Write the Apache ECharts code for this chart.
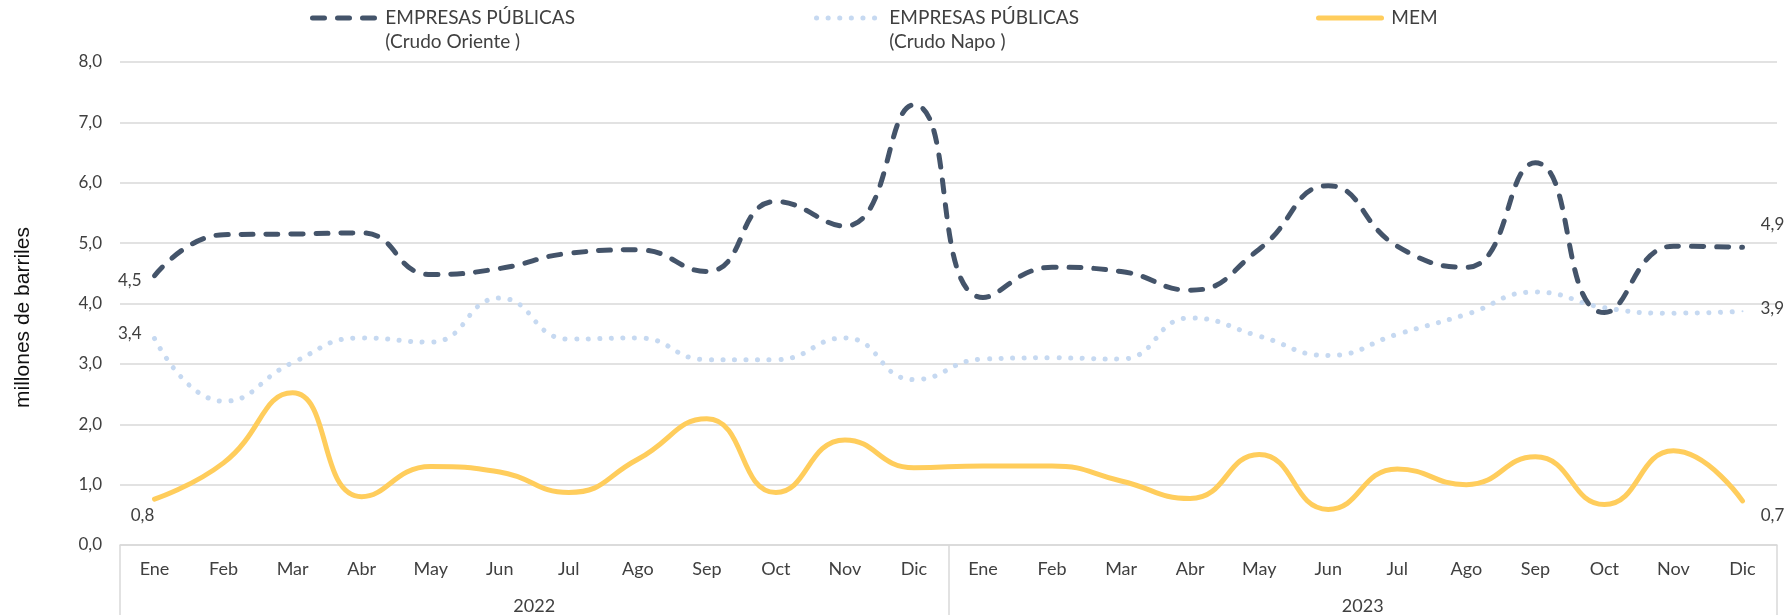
<!DOCTYPE html>
<html>
<head>
<meta charset="utf-8">
<script src="https://cdn.jsdelivr.net/npm/echarts@6/dist/echarts.min.js"></script>
<style>
html,body{margin:0;padding:0;background:#fff;}
#c{width:1787px;height:615px;}
</style>
</head>
<body>
<div id="c"></div>
<script>
const months = ['Ene','Feb','Mar','Abr','May','Jun','Jul','Ago','Sep','Oct','Nov','Dic',
                'Ene','Feb','Mar','Abr','May','Jun','Jul','Ago','Sep','Oct','Nov','Dic'];
const years = ['2022','2023'];
const nameOriente = 'EMPRESAS PÚBLICAS\n(Crudo Oriente )';
const nameNapo = 'EMPRESAS PÚBLICAS\n(Crudo Napo )';
const nameMem = 'MEM';
const oriente = [4.46,5.14,5.15,5.17,4.48,4.58,4.83,4.89,4.53,5.69,5.28,7.29,
                 4.1,4.6,4.53,4.22,4.9,5.95,4.95,4.6,6.33,3.85,4.95,4.93];
const napo = [3.42,2.38,3.02,3.43,3.36,4.09,3.41,3.43,3.07,3.07,3.43,2.74,
              3.08,3.1,3.08,3.76,3.46,3.14,3.49,3.82,4.19,3.93,3.84,3.87];
const mem = [0.76,1.36,2.52,0.8,1.3,1.21,0.87,1.42,2.09,0.87,1.74,1.28,
             1.31,1.31,1.06,0.77,1.5,0.59,1.26,1.0,1.46,0.67,1.56,0.73];

const fmt = v => v.toFixed(1).replace('.', ',');
const txt = '#404040';
const FONT = 'Lato';
const labelFont = {fontFamily:FONT, fontSize:17, color:txt};

function endLabels(arr, color, first, last) {
  const mk = (v, pos) => ({
    value: v, symbol:'circle', symbolSize:2, itemStyle:{color:color},
    label: Object.assign({show:true, formatter: p => fmt(p.value)}, labelFont, pos)
  });
  return arr.map((v, i) => {
    if (i === 0) return mk(v, first);
    if (i === arr.length - 1) return mk(v, last);
    return v;
  });
}

const chart = echarts.init(document.getElementById('c'));
const legendText = {fontFamily:FONT, fontSize:19, color:txt, lineHeight:24};
const legendFmt = name => {
  const parts = name.split('\n').map(s => ' ' + s);
  return parts.length > 1 ? '\u00a0\n' + parts.join('\n') : parts[0];
};
const legendBase = {
  itemWidth:63, itemHeight:14, textStyle:legendText, selectedMode:false,
  formatter: legendFmt, itemStyle:{opacity:0}
};
const option = {
  animation: false,
  backgroundColor: '#fff',
  grid: {left:120, right:10, top:62, bottom:69, containLabel:false},
  legend: [
    Object.assign({data:[nameOriente], left:305, top:-23,
      lineStyle:{width:5, cap:'round', type:[12,13]}}, legendBase),
    Object.assign({data:[nameNapo], left:809, top:-23,
      lineStyle:{width:5, cap:'round', type:[0.1,11.5]}}, legendBase),
    Object.assign({data:[nameMem], left:1311, top:1,
      lineStyle:{width:5, cap:'round'}}, legendBase)
  ],
  xAxis: [
    {
      type:'category', data:months, boundaryGap:true, position:'bottom',
      axisLine:{show:true, lineStyle:{color:'#d9d9d9', width:1.5}},
      axisTick:{show:false},
      axisLabel:{interval:0, margin:15, fontFamily:FONT, fontSize:18, color:txt}
    },
    {
      type:'category', data:years, boundaryGap:true, position:'bottom',
      axisLine:{show:false},
      axisTick:{show:true, length:70, lineStyle:{color:'#d9d9d9', width:1.5}},
      axisLabel:{interval:0, margin:52, fontFamily:FONT, fontSize:18, color:txt}
    }
  ],
  yAxis: {
    type:'value', min:0, max:8, interval:1,
    name:'millones de barriles', nameLocation:'middle', nameGap:86,
    nameTextStyle:{fontFamily:'Liberation Sans', fontSize:21, color:'#111', padding:[0,28,0,0]},
    axisLine:{show:false}, axisTick:{show:false},
    axisLabel:{margin:18, formatter: v => fmt(v), fontFamily:FONT, fontSize:17, color:txt},
    splitLine:{lineStyle:{color:'#d9d9d9', width:1.5}}
  },
  series: [
    {
      name:nameOriente, type:'line', xAxisIndex:0, smooth:0.5, symbol:'none',
      data: endLabels(oriente, '#44546a',
        {position:'left', distance:12, offset:[0,5]},
        {position:'top', distance:13, offset:[30,0]}),
      lineStyle:{color:'#44546a', width:5, type:[12,13], cap:'round'},
      itemStyle:{color:'#44546a'}, z:3
    },
    {
      name:nameNapo, type:'line', xAxisIndex:0, smooth:0.5, symbol:'none',
      data: endLabels(napo, '#c6d9f1',
        {position:'left', distance:12, offset:[0,-5]},
        {position:'right', distance:17, offset:[0,-3]}),
      lineStyle:{color:'#c6d9f1', width:5, type:[0.1,11.5], cap:'round'},
      itemStyle:{color:'#c6d9f1'}, z:2
    },
    {
      name:nameMem, type:'line', xAxisIndex:0, smooth:0.5, symbol:'none',
      data: endLabels(mem, '#ffcd5c',
        {position:'bottom', distance:7, offset:[-12,0]},
        {position:'bottom', distance:5, offset:[30,0]}),
      lineStyle:{color:'#ffcd5c', width:5, cap:'round'},
      itemStyle:{color:'#ffcd5c'}, z:2
    }
  ]
};
chart.setOption(option);
</script>
</body>
</html>
